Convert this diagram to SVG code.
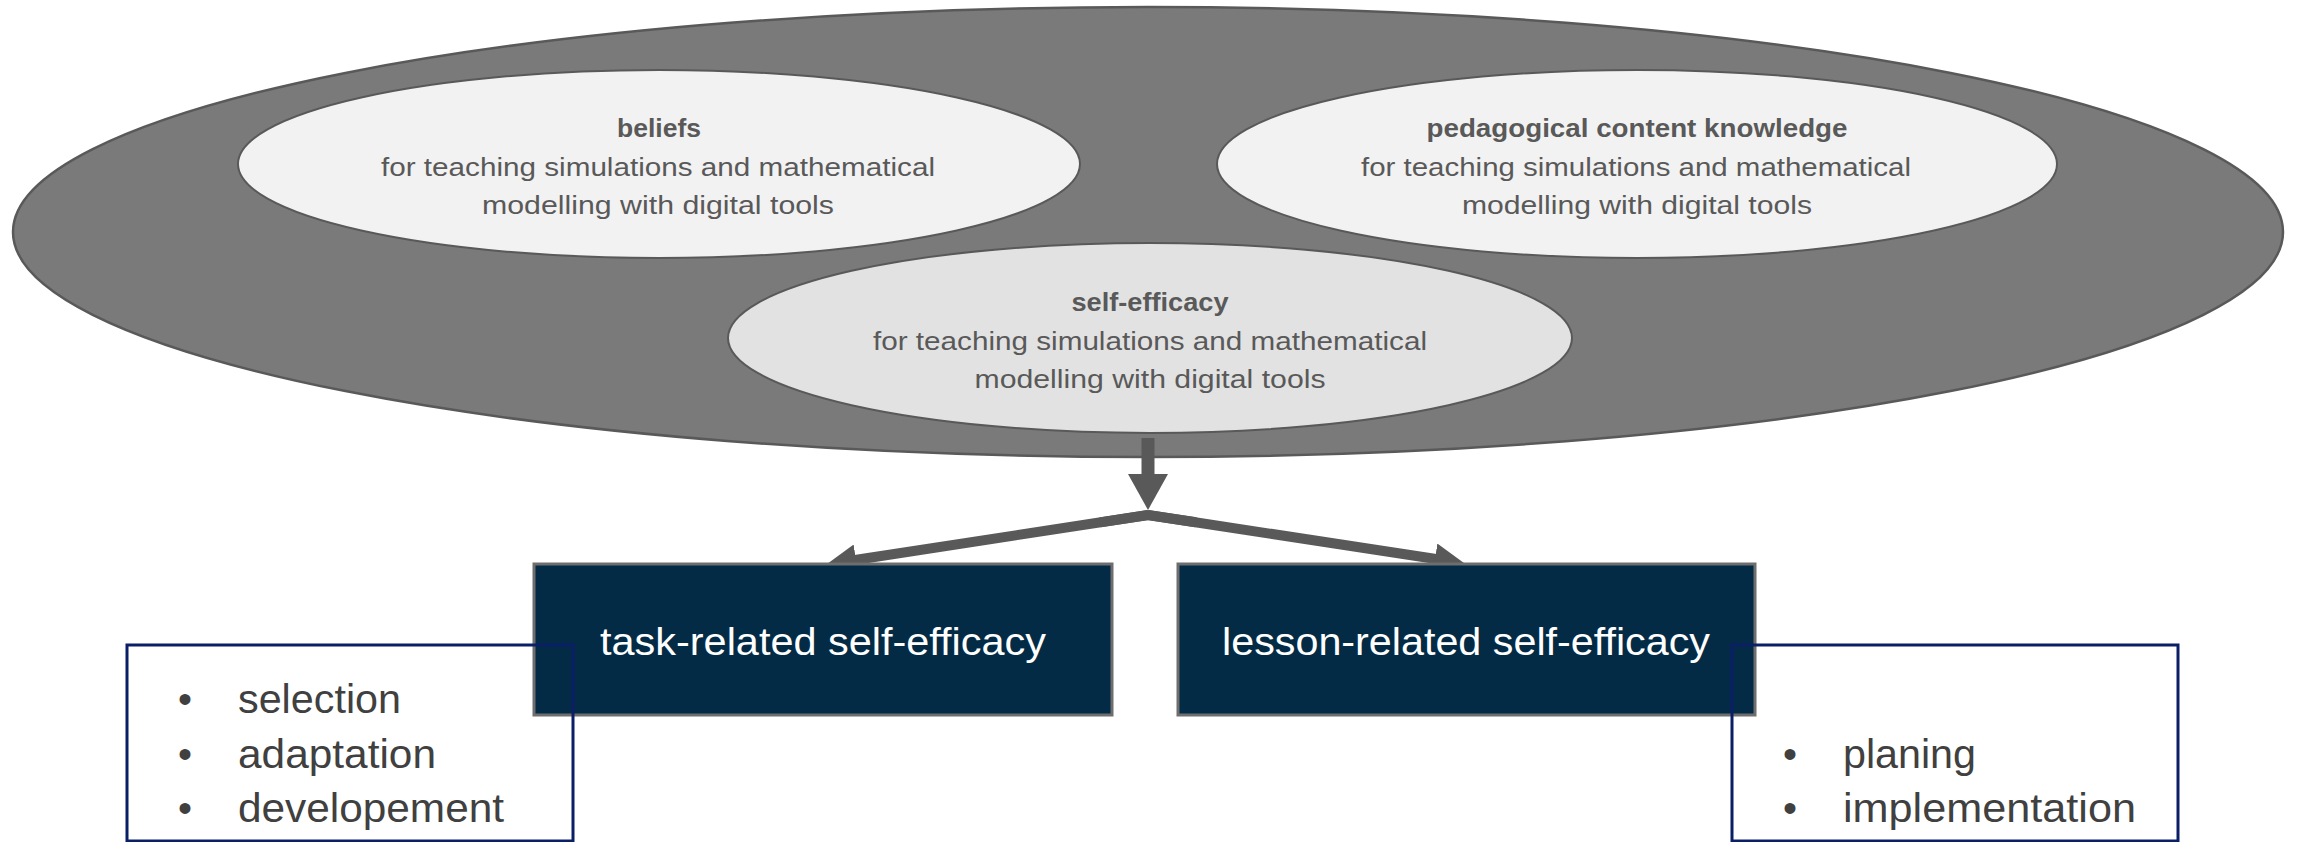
<svg xmlns="http://www.w3.org/2000/svg" width="2298" height="842" viewBox="0 0 2298 842">
  <style>
    .ell-t { font-family: "Liberation Sans", Arial, sans-serif; font-size: 26px; fill: #595959; text-anchor: middle; }
    .ell-b { font-weight: bold; }
    .box { fill: #032B45; stroke: #6E6E6E; stroke-width: 3; }
    .box-t { font-family: "Liberation Sans", Arial, sans-serif; font-size: 38px; fill: #FFFFFF; text-anchor: middle; }
    .list { fill: none; stroke: #0B1F66; stroke-width: 3; }
    .li { font-family: "Liberation Sans", Arial, sans-serif; font-size: 40px; fill: #404040; }
    .conn { fill: none; stroke: #595959; }
  </style>
  <defs>
    <marker id="ahV" markerUnits="userSpaceOnUse" viewBox="0 -20 36 40" markerWidth="36" markerHeight="40" refX="1" refY="0" orient="auto">
      <path d="M0,-20 L36,0 L0,20 z" fill="#595959"/>
    </marker>
    <marker id="ahD" markerUnits="userSpaceOnUse" viewBox="0 -15.5 30 31" markerWidth="30" markerHeight="31" refX="1" refY="0" orient="auto">
      <path d="M0,-15.5 L30,0 L0,15.5 z" fill="#595959"/>
    </marker>
  </defs>

  <g id="outer">
    <ellipse cx="1148" cy="232" rx="1135" ry="225" fill="#7A7A7A" stroke="#595959" stroke-width="2.5"/>
  </g>

  <g id="beliefs">
    <ellipse cx="659" cy="164" rx="421" ry="94" fill="#F2F2F2" stroke="#595959" stroke-width="2"/>
    <text class="ell-t ell-b" x="659" y="137" textLength="84" lengthAdjust="spacingAndGlyphs">beliefs</text>
    <text class="ell-t" x="658" y="176" textLength="554" lengthAdjust="spacingAndGlyphs">for teaching simulations and mathematical</text>
    <text class="ell-t" x="658" y="214" textLength="352" lengthAdjust="spacingAndGlyphs">modelling with digital tools</text>
  </g>

  <g id="pck">
    <ellipse cx="1637" cy="164" rx="420" ry="94" fill="#F2F2F2" stroke="#595959" stroke-width="2"/>
    <text class="ell-t ell-b" x="1637" y="137" textLength="421" lengthAdjust="spacingAndGlyphs">pedagogical content knowledge</text>
    <text class="ell-t" x="1636" y="176" textLength="550" lengthAdjust="spacingAndGlyphs">for teaching simulations and mathematical</text>
    <text class="ell-t" x="1637" y="214" textLength="350" lengthAdjust="spacingAndGlyphs">modelling with digital tools</text>
  </g>

  <g id="self-efficacy">
    <ellipse cx="1150" cy="338" rx="422" ry="95" fill="#E2E2E2" stroke="#595959" stroke-width="2"/>
    <text class="ell-t ell-b" x="1150" y="311" textLength="157" lengthAdjust="spacingAndGlyphs">self-efficacy</text>
    <text class="ell-t" x="1150" y="350" textLength="554" lengthAdjust="spacingAndGlyphs">for teaching simulations and mathematical</text>
    <text class="ell-t" x="1150" y="388" textLength="351" lengthAdjust="spacingAndGlyphs">modelling with digital tools</text>
  </g>

  <g id="connectors">
    <path class="conn" d="M1148,438 L1148,475" stroke-width="13" marker-end="url(#ahV)"/>
    <path class="conn" d="M1148,515 L855,560" stroke-width="10" stroke-linejoin="miter" marker-end="url(#ahD)"/>
    <path class="conn" d="M1148,515 L1436,559" stroke-width="10" stroke-linejoin="miter" marker-end="url(#ahD)"/>
    <path class="conn" d="M1100,522.4 L1148,515 L1196,522.3" stroke-width="10" stroke-linejoin="miter" stroke-miterlimit="10"/>
  </g>

  <g id="task-box">
    <rect class="box" x="534" y="564" width="578" height="151"/>
    <text class="box-t" x="823" y="655" textLength="446" lengthAdjust="spacingAndGlyphs">task-related self-efficacy</text>
  </g>

  <g id="lesson-box">
    <rect class="box" x="1178" y="564" width="577" height="151"/>
    <text class="box-t" x="1466" y="655" textLength="488" lengthAdjust="spacingAndGlyphs">lesson-related self-efficacy</text>
  </g>

  <g id="task-list">
    <rect class="list" x="127" y="645" width="446" height="196"/>
    <text class="li" x="185" y="713" text-anchor="middle">•</text>
    <text class="li" x="238" y="713" textLength="163" lengthAdjust="spacingAndGlyphs">selection</text>
    <text class="li" x="185" y="768" text-anchor="middle">•</text>
    <text class="li" x="238" y="768" textLength="198" lengthAdjust="spacingAndGlyphs">adaptation</text>
    <text class="li" x="185" y="822" text-anchor="middle">•</text>
    <text class="li" x="238" y="822" textLength="266" lengthAdjust="spacingAndGlyphs">developement</text>
  </g>

  <g id="lesson-list">
    <rect class="list" x="1732" y="645" width="446" height="196"/>
    <text class="li" x="1790" y="768" text-anchor="middle">•</text>
    <text class="li" x="1843" y="768" textLength="133" lengthAdjust="spacingAndGlyphs">planing</text>
    <text class="li" x="1790" y="822" text-anchor="middle">•</text>
    <text class="li" x="1843" y="822" textLength="293" lengthAdjust="spacingAndGlyphs">implementation</text>
  </g>
</svg>
